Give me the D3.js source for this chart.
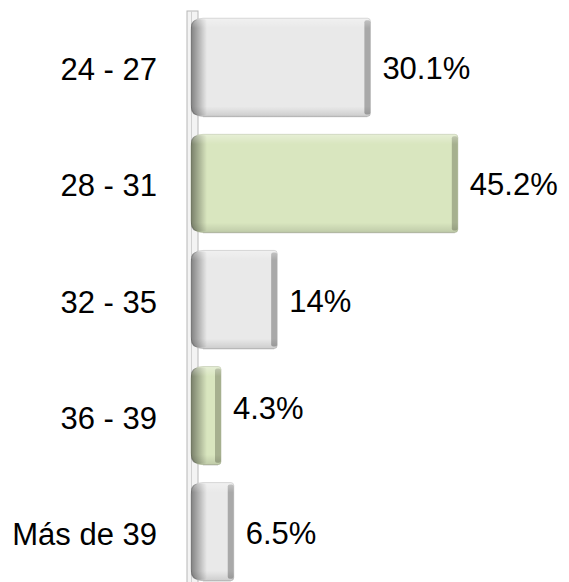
<!DOCTYPE html>
<html><head><meta charset="utf-8">
<script src="https://cdn.jsdelivr.net/npm/d3@7"></script>
<style>html,body{margin:0;padding:0;background:#fff;}svg{display:block;}</style>
</head><body>
<svg id="chart" width="569" height="582"></svg>
<script>
const categories = ["24 - 27", "28 - 31", "32 - 35", "36 - 39", "Más de 39"];
const values = [30.1, 45.2, 14, 4.3, 6.5];
const valueLabels = ["30.1%", "45.2%", "14%", "4.3%", "6.5%"];
const colorGroup = ["gray", "green", "gray", "green", "gray"];

// layout tweak for label placement (not data)
const labelNudge = [0, 0, 0, -9, 0];

const svg = d3.select("#chart");
const x = d3.scaleLinear().domain([0, 50]).range([196.1, 196.1 + 50 * 5.79]);
const barStart = 191;
const y = d3.scaleBand().domain(categories).range([9, 590]).paddingInner(0.155).paddingOuter(0.08);

const defs = svg.append("defs");
const pal = {
  gray: {fill: "#e9e9e9", edge: "#a9a9a9", dark: "#8c8c8c"},
  green: {fill: "#d9e6bf", edge: "#a6b08f", dark: "#8e9a76"}
};
Object.entries(pal).forEach(([k, c]) => {
  const v = defs.append("linearGradient").attr("id", "v-" + k).attr("x1", 0).attr("x2", 0).attr("y1", 0).attr("y2", 1);
  v.append("stop").attr("offset", 0).attr("stop-color", "#fff").attr("stop-opacity", 0.35);
  v.append("stop").attr("offset", 0.1).attr("stop-color", "#fff").attr("stop-opacity", 0);
  v.append("stop").attr("offset", 0.9).attr("stop-color", "#000").attr("stop-opacity", 0);
  v.append("stop").attr("offset", 1).attr("stop-color", "#000").attr("stop-opacity", 0.12);
});
const lg = defs.append("linearGradient").attr("id", "leftshade").attr("x1", 0).attr("x2", 1);
lg.append("stop").attr("offset", 0).attr("stop-color", "#000").attr("stop-opacity", 0.45);
lg.append("stop").attr("offset", 1).attr("stop-color", "#000").attr("stop-opacity", 0);

// wall / axis
svg.append("rect").attr("x", 187).attr("y", 11).attr("width", 11).attr("height", 580)
  .attr("fill", "#f3f3f3").attr("stroke", "#b8b8b8").attr("stroke-width", 1);
svg.append("line").attr("x1", 191.5).attr("x2", 191.5).attr("y1", 11).attr("y2", 582).attr("stroke", "#d0d0d0");

const r = 12;
function barPath(x1, x2, y1, y2) {
  const rr = Math.min(r, (x2 - x1) / 2);
  return `M${x1 + rr},${y1} H${x2 - 3} Q${x2},${y1} ${x2},${y1 + 3} V${y2 - 3} Q${x2},${y2} ${x2 - 3},${y2} H${x1 + rr} Q${x1},${y2} ${x1},${y2 - rr} V${y1 + rr} Q${x1},${y1} ${x1 + rr},${y1} Z`;
}

const bars = svg.selectAll("g.bar").data(categories).join("g").attr("class", "bar");
bars.each(function (c, i) {
  const g = d3.select(this);
  const k = colorGroup[i];
  const y1 = y(c), y2 = y(c) + y.bandwidth();
  const xe = x(values[i]);
  g.append("path").attr("d", barPath(barStart, xe, y1, y2)).attr("fill", pal[k].fill)
    .attr("stroke", pal[k].edge).attr("stroke-opacity", 0.5).attr("stroke-width", 1);
  g.append("rect").attr("x", xe - 6).attr("y", y1 + 2).attr("width", 6).attr("height", y2 - y1 - 4)
    .attr("rx", 2).attr("fill", pal[k].edge);
  g.append("path").attr("d", barPath(barStart, Math.min(barStart + 16, xe - 6), y1 + 1, y2 - 1)).attr("fill", "url(#leftshade)");
  g.append("path").attr("d", barPath(barStart, xe, y1, y2)).attr("fill", "url(#v-" + k + ")");
  g.append("line").attr("x1", barStart + r).attr("x2", xe - 3).attr("y1", y2 + 0.5).attr("y2", y2 + 0.5)
    .attr("stroke", "#000").attr("stroke-opacity", 0.12);
});

const font = "'Liberation Sans', Arial, sans-serif";
svg.selectAll("text.cat").data(categories).join("text").attr("class", "cat")
  .attr("x", 157).attr("y", c => y(c) + y.bandwidth() / 2 + 13)
  .attr("text-anchor", "end").attr("font-family", font).attr("font-size", 31).attr("fill", "#000")
  .text(c => c);
svg.selectAll("text.val").data(values).join("text").attr("class", "val")
  .attr("x", (v) => x(v) + 12).attr("y", (v, i) => y(categories[i]) + y.bandwidth() / 2 + 12 + labelNudge[i])
  .attr("font-family", font).attr("font-size", 31).attr("fill", "#000")
  .text((v, i) => valueLabels[i]);
</script>
</body></html>
